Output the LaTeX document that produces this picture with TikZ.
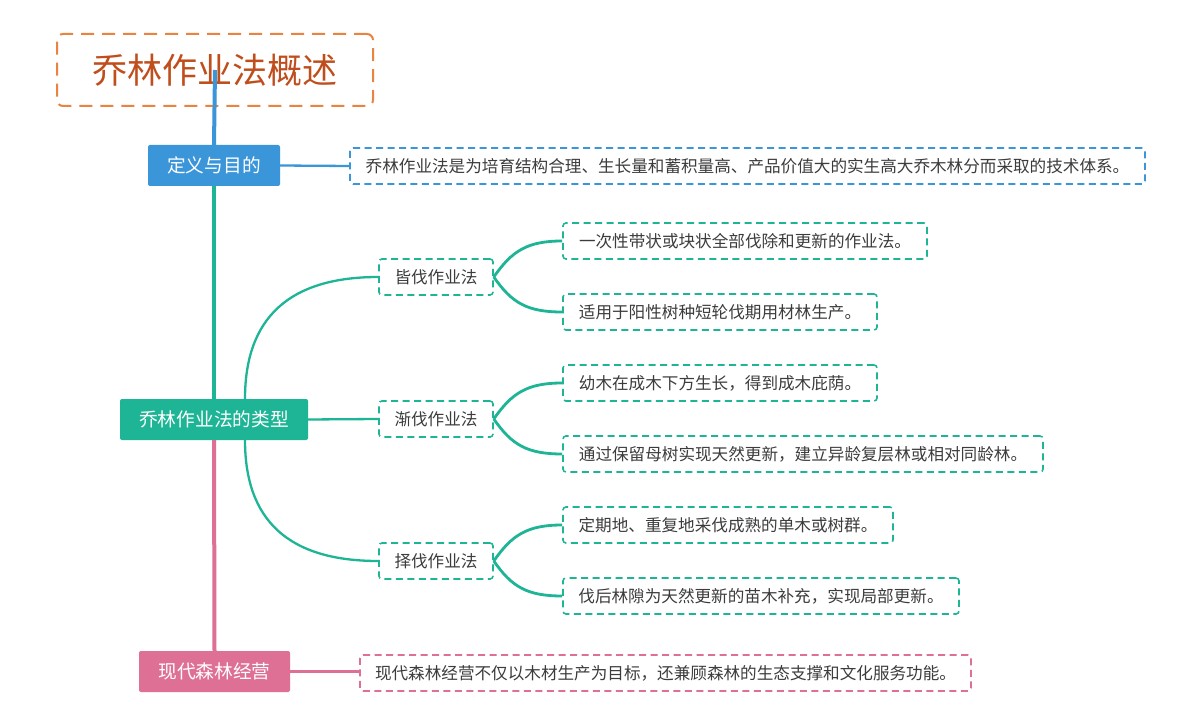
\documentclass[tikz,border=0pt]{standalone}
\usepackage{fontspec}
\setmainfont{Noto Sans CJK SC}
\usetikzlibrary{calc}
\definecolor{cblue}{HTML}{3A95D9}
\definecolor{cteal}{HTML}{1DB595}
\definecolor{cpink}{HTML}{DD7094}
\definecolor{corange}{HTML}{E8843F}
\definecolor{ctitle}{HTML}{BF4E1C}
\definecolor{ctext}{HTML}{3C3C3C}
\begin{document}
\begin{tikzpicture}[x=1pt,y=-1pt,
  titlebox/.style={draw=corange,line width=2pt,dash pattern=on 13pt off 8pt,rounded corners=6pt,fill=white,
    text=ctitle,font=\fontsize{35}{40}\selectfont,inner sep=0pt,minimum width=316pt,minimum height=72pt},
  branch/.style={rounded corners=2pt,text=white,font=\fontsize{18.7}{22}\selectfont,inner sep=0pt,minimum height=41pt},
  leaf/.style={draw,line width=1.6pt,dash pattern=on 7pt off 4.5pt,rounded corners=3pt,fill=white,
    text=ctext,font=\fontsize{16.6}{19}\selectfont,inner sep=0pt,minimum height=36pt},
  trunk/.style={line width=4pt},
  conn/.style={line width=2.8pt},
  thin/.style={line width=2.3pt}]
\useasboundingbox (0,0) rectangle (1200,727);
\fill[white] (0,0) rectangle (1200,727);

% nodes
\node[titlebox] (title) at (215,70) {乔林作业法概述};
\node[branch,fill=cblue,minimum width=132pt] (def) at (214,165.5) {定义与目的};
\node[leaf,draw=cblue,minimum width=795pt] (defleaf) at (747.5,166) {乔林作业法是为培育结构合理、生长量和蓄积量高、产品价值大的实生高大乔木林分而采取的技术体系。};
\node[branch,fill=cteal,minimum width=188pt] (types) at (214,419.5) {乔林作业法的类型};
\node[leaf,draw=cteal,minimum width=114pt] (jie) at (436,277) {皆伐作业法};
\node[leaf,draw=cteal,minimum width=114pt] (jian) at (436,419) {渐伐作业法};
\node[leaf,draw=cteal,minimum width=114pt] (ze) at (436,561) {择伐作业法};
\node[leaf,draw=cteal,minimum width=364pt] (l1) at (745,241) {一次性带状或块状全部伐除和更新的作业法。};
\node[leaf,draw=cteal,minimum width=314pt] (l2) at (720,312) {适用于阳性树种短轮伐期用材林生产。};
\node[leaf,draw=cteal,minimum width=314pt] (l3) at (720,383) {幼木在成木下方生长，得到成木庇荫。};
\node[leaf,draw=cteal,minimum width=480pt] (l4) at (803,454) {通过保留母树实现天然更新，建立异龄复层林或相对同龄林。};
\node[leaf,draw=cteal,minimum width=330pt] (l5) at (728,525) {定期地、重复地采伐成熟的单木或树群。};
\node[leaf,draw=cteal,minimum width=396pt] (l6) at (761,596) {伐后林隙为天然更新的苗木补充，实现局部更新。};
\node[branch,fill=cpink,minimum width=151pt] (modern) at (214.5,671.5) {现代森林经营};
\node[leaf,draw=cpink,minimum width=611pt] (modleaf) at (665.5,673) {现代森林经营不仅以木材生产为目标，还兼顾森林的生态支撑和文化服务功能。};

% trunk
\draw[trunk,cblue] (title.center) -- (def.north);
\draw[trunk,cteal] (def.south) -- (types.north);
\draw[trunk,cpink] (types.south) -- (modern.north);

% first level connectors
\draw[thin,cblue] (def.east) -- (defleaf.west);
\draw[thin,cpink] (modern.east) -- ($(modleaf.west)+(0,-1.5)$);
\draw[thin,cteal] (types.east) -- (jian.west);
\coordinate (tt) at ($(types.north)+(31,0)$);
\coordinate (tb) at ($(types.south)+(31,0)$);
\draw[thin,cteal] (tt) .. controls +(0,-80) and +(-90,0) .. (jie.west);
\draw[thin,cteal] (tb) .. controls +(0,80) and +(-90,0) .. (ze.west);

% second level connectors
\foreach \s/\a/\b in {jie/l1/l2, jian/l3/l4, ze/l5/l6}{
  \draw[conn,cteal] (\s.east) .. controls +(18,-26) and +(-35,0) .. (\a.west);
  \draw[conn,cteal] (\s.east) .. controls +(18,26) and +(-35,0) .. (\b.west);
}
\end{tikzpicture}
\end{document}
